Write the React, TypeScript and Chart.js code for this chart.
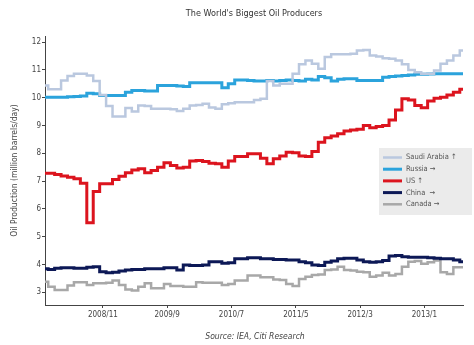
import React, { useEffect, useRef } from "react";
import { Chart, registerables } from "chart.js";

Chart.register(...registerables);

const MONTHS = [
  "2008/2", "2008/3", "2008/4", "2008/5", "2008/6", "2008/7", "2008/8", "2008/9", "2008/10", "2008/11", "2008/12",
  "2009/1", "2009/2", "2009/3", "2009/4", "2009/5", "2009/6", "2009/7", "2009/8", "2009/9", "2009/10", "2009/11", "2009/12",
  "2010/1", "2010/2", "2010/3", "2010/4", "2010/5", "2010/6", "2010/7", "2010/8", "2010/9", "2010/10", "2010/11", "2010/12",
  "2011/1", "2011/2", "2011/3", "2011/4", "2011/5", "2011/6", "2011/7", "2011/8", "2011/9", "2011/10", "2011/11", "2011/12",
  "2012/1", "2012/2", "2012/3", "2012/4", "2012/5", "2012/6", "2012/7", "2012/8", "2012/9", "2012/10", "2012/11", "2012/12",
  "2013/1", "2013/2", "2013/3", "2013/4", "2013/5", "2013/6", "2013/7",
];

const TICK_LABELS = ["2008/11", "2009/9", "2010/7", "2011/5", "2012/3", "2013/1"];

const SAUDI = [
  10.44, 10.3, 10.3, 10.62, 10.78, 10.86, 10.86, 10.8, 10.6, 10.1, 9.7,
  9.32, 9.32, 9.63, 9.5, 9.72, 9.7, 9.6, 9.6, 9.6, 9.58, 9.52, 9.6,
  9.72, 9.74, 9.78, 9.65, 9.6, 9.76, 9.8, 9.84, 9.84, 9.84, 9.92, 9.96,
  10.6, 10.44, 10.5, 10.5, 10.86, 11.2, 11.34, 11.22, 11.04, 11.46, 11.56, 11.56,
  11.56, 11.58, 11.7, 11.72, 11.52, 11.48, 11.42, 11.4, 11.34, 11.2, 11.0, 10.92,
  10.86, 10.86, 10.98, 11.22, 11.34, 11.52, 11.7,
];

const RUSSIA = [
  10.02, 10.02, 10.02, 10.02, 10.03, 10.04, 10.06, 10.16, 10.14, 10.08, 10.08,
  10.08, 10.08, 10.2, 10.26, 10.26, 10.24, 10.24, 10.44, 10.44, 10.44, 10.42, 10.4,
  10.54, 10.54, 10.54, 10.54, 10.54, 10.36, 10.5, 10.64, 10.64, 10.62, 10.6, 10.6,
  10.62, 10.6, 10.62, 10.64, 10.62, 10.6, 10.66, 10.64, 10.76, 10.72, 10.6, 10.66,
  10.68, 10.68, 10.62, 10.62, 10.62, 10.62, 10.74, 10.76, 10.78, 10.8, 10.82, 10.84,
  10.84, 10.85, 10.86, 10.86, 10.86, 10.86, 10.86,
];

const US = [
  7.28, 7.28, 7.24, 7.18, 7.14, 7.08, 6.92, 5.5, 6.62, 6.9, 6.9,
  7.06, 7.17, 7.3, 7.4, 7.44, 7.3, 7.38, 7.5, 7.66, 7.56, 7.47, 7.5,
  7.72, 7.74, 7.7, 7.64, 7.62, 7.5, 7.72, 7.88, 7.88, 7.98, 7.98, 7.82,
  7.62, 7.8, 7.9, 8.04, 8.02, 7.9, 7.88, 8.06, 8.4, 8.56, 8.62, 8.7,
  8.8, 8.84, 8.86, 9.0, 8.92, 8.96, 9.0, 9.2, 9.56, 9.96, 9.92, 9.72,
  9.64, 9.88, 9.98, 10.02, 10.1, 10.2, 10.3,
];

const CHINA = [
  3.84, 3.82, 3.86, 3.88, 3.88, 3.86, 3.86, 3.9, 3.92, 3.74, 3.7,
  3.72, 3.76, 3.8, 3.82, 3.82, 3.84, 3.84, 3.84, 3.88, 3.88, 3.8, 3.98,
  3.96, 3.96, 3.98, 4.1, 4.1, 4.04, 4.06, 4.2, 4.2, 4.24, 4.24, 4.2,
  4.2, 4.18, 4.18, 4.16, 4.16, 4.1, 4.06, 3.98, 3.96, 4.08, 4.12, 4.2,
  4.22, 4.22, 4.16, 4.1, 4.08, 4.1, 4.14, 4.3, 4.32, 4.28, 4.26, 4.26,
  4.26, 4.24, 4.22, 4.2, 4.2, 4.16, 4.1,
];

const CANADA = [
  3.38, 3.2, 3.08, 3.08, 3.24, 3.36, 3.36, 3.26, 3.32, 3.32, 3.34,
  3.42, 3.26, 3.1, 3.06, 3.2, 3.32, 3.14, 3.14, 3.3, 3.22, 3.22, 3.2,
  3.2, 3.36, 3.34, 3.34, 3.34, 3.26, 3.3, 3.42, 3.42, 3.6, 3.6, 3.54,
  3.54, 3.46, 3.44, 3.3, 3.22, 3.48, 3.56, 3.62, 3.64, 3.8, 3.82, 3.92,
  3.8, 3.78, 3.74, 3.72, 3.56, 3.6, 3.7, 3.6, 3.66, 3.92, 4.1, 4.12,
  4.02, 4.08, 4.14, 3.72, 3.66, 3.9, 3.9,
];

const SERIES_NAMES = ["Saudi Arabia ↑", "Russia →", "US ↑", "China  →", "Canada →"];
const SERIES_COLORS = ["#bac8df", "#2ba3dc", "#dc141e", "#0c1856", "#a8a8a8"];
const SERIES_WIDTHS = [2.5, 3, 3, 3, 2.5];

const FONT = "'Liberation Sans Narrow', 'DejaVu Sans Condensed', 'Liberation Sans', sans-serif";

const overlayPlugin = {
  id: "overlay",
  afterDraw(chart: any) {
    const { ctx, chartArea } = chart;
    ctx.save();
    // title
    ctx.fillStyle = "#333";
    ctx.font = `9px ${FONT}`;
    ctx.textAlign = "center";
    ctx.textBaseline = "middle";
    ctx.fillText("The World's Biggest Oil Producers", (chartArea.left + chartArea.right) / 2, 14);
    // source
    ctx.fillStyle = "#444";
    ctx.font = `italic 8.5px ${FONT}`;
    ctx.fillText("Source: IEA, Citi Research", (chartArea.left + chartArea.right) / 2 + 1, chart.height - 8);
    // legend
    const bx = 379, by = 148, bw = 93, bh = 67;
    ctx.fillStyle = "#ebebeb";
    ctx.fillRect(bx, by, bw, bh);
    ctx.font = `7.5px ${FONT}`;
    ctx.textAlign = "left";
    chart.data.datasets.forEach((ds: any, i: number) => {
      const y = by + 9.5 + i * 11.7;
      ctx.strokeStyle = ds.borderColor;
      ctx.lineWidth = ds.borderWidth;
      ctx.beginPath();
      ctx.moveTo(bx + 4, y);
      ctx.lineTo(bx + 23, y);
      ctx.stroke();
      ctx.fillStyle = "#555";
      ctx.fillText(ds.label, bx + 27, y);
    });
    ctx.restore();
  },
};

export default function App() {
  const ref = useRef<HTMLCanvasElement | null>(null);

  useEffect(() => {
    if (!ref.current) return;
    const seriesData = [SAUDI, RUSSIA, US, CHINA, CANADA];
    const chart = new Chart(ref.current, {
      type: "line",
      data: {
        labels: MONTHS,
        datasets: seriesData.map((d, i) => ({
          label: SERIES_NAMES[i],
          data: d,
          borderColor: SERIES_COLORS[i],
          backgroundColor: SERIES_COLORS[i],
          borderWidth: SERIES_WIDTHS[i],
          pointRadius: 0,
          stepped: "middle" as const,
          fill: false,
        })),
      },
      options: {
        responsive: false,
        animation: false,
        events: [],
        layout: { padding: { top: 36, right: 11, left: 0, bottom: 0 } },
        plugins: {
          legend: { display: false },
          title: { display: false },
          tooltip: { enabled: false },
        },
        scales: {
          x: {
            type: "category",
            offset: false,
            afterFit: (s: any) => {
              s.height = 40;
            },
            border: { display: true, color: "#444", width: 1 },
            grid: {
              display: true,
              drawOnChartArea: false,
              drawTicks: true,
              tickLength: 3,
              tickColor: (c: any) =>
                TICK_LABELS.includes(MONTHS[c.index]) ? "#444" : "rgba(0,0,0,0)",
            },
            ticks: {
              autoSkip: false,
              maxRotation: 0,
              minRotation: 0,
              padding: 2,
              color: "#444",
              font: { family: FONT, size: 8 },
              callback: (_v: any, i: number) =>
                TICK_LABELS.includes(MONTHS[i]) ? MONTHS[i] : "",
            },
          },
          y: {
            type: "linear",
            min: 2.54,
            max: 12.22,
            afterFit: (s: any) => {
              s.width = 45;
            },
            border: { display: true, color: "#444", width: 1 },
            grid: {
              display: true,
              drawOnChartArea: false,
              drawTicks: true,
              tickLength: 3,
              tickColor: "#444",
            },
            ticks: {
              stepSize: 1,
              includeBounds: false,
              padding: 1,
              color: "#444",
              font: { family: FONT, size: 8 },
            },
            title: {
              display: true,
              text: "Oil Production (million barrels/day)",
              color: "#444",
              font: { family: FONT, size: 8.5 },
              padding: { top: 10, bottom: 0 },
            },
          },
        },
      },
      plugins: [overlayPlugin],
    });
    return () => chart.destroy();
  }, []);

  return (
    <div style={{ position: "absolute", left: 0, top: 0, width: 474, height: 345, background: "#fff" }}>
      <canvas ref={ref} width={474} height={345} style={{ display: "block" }} />
    </div>
  );
}
